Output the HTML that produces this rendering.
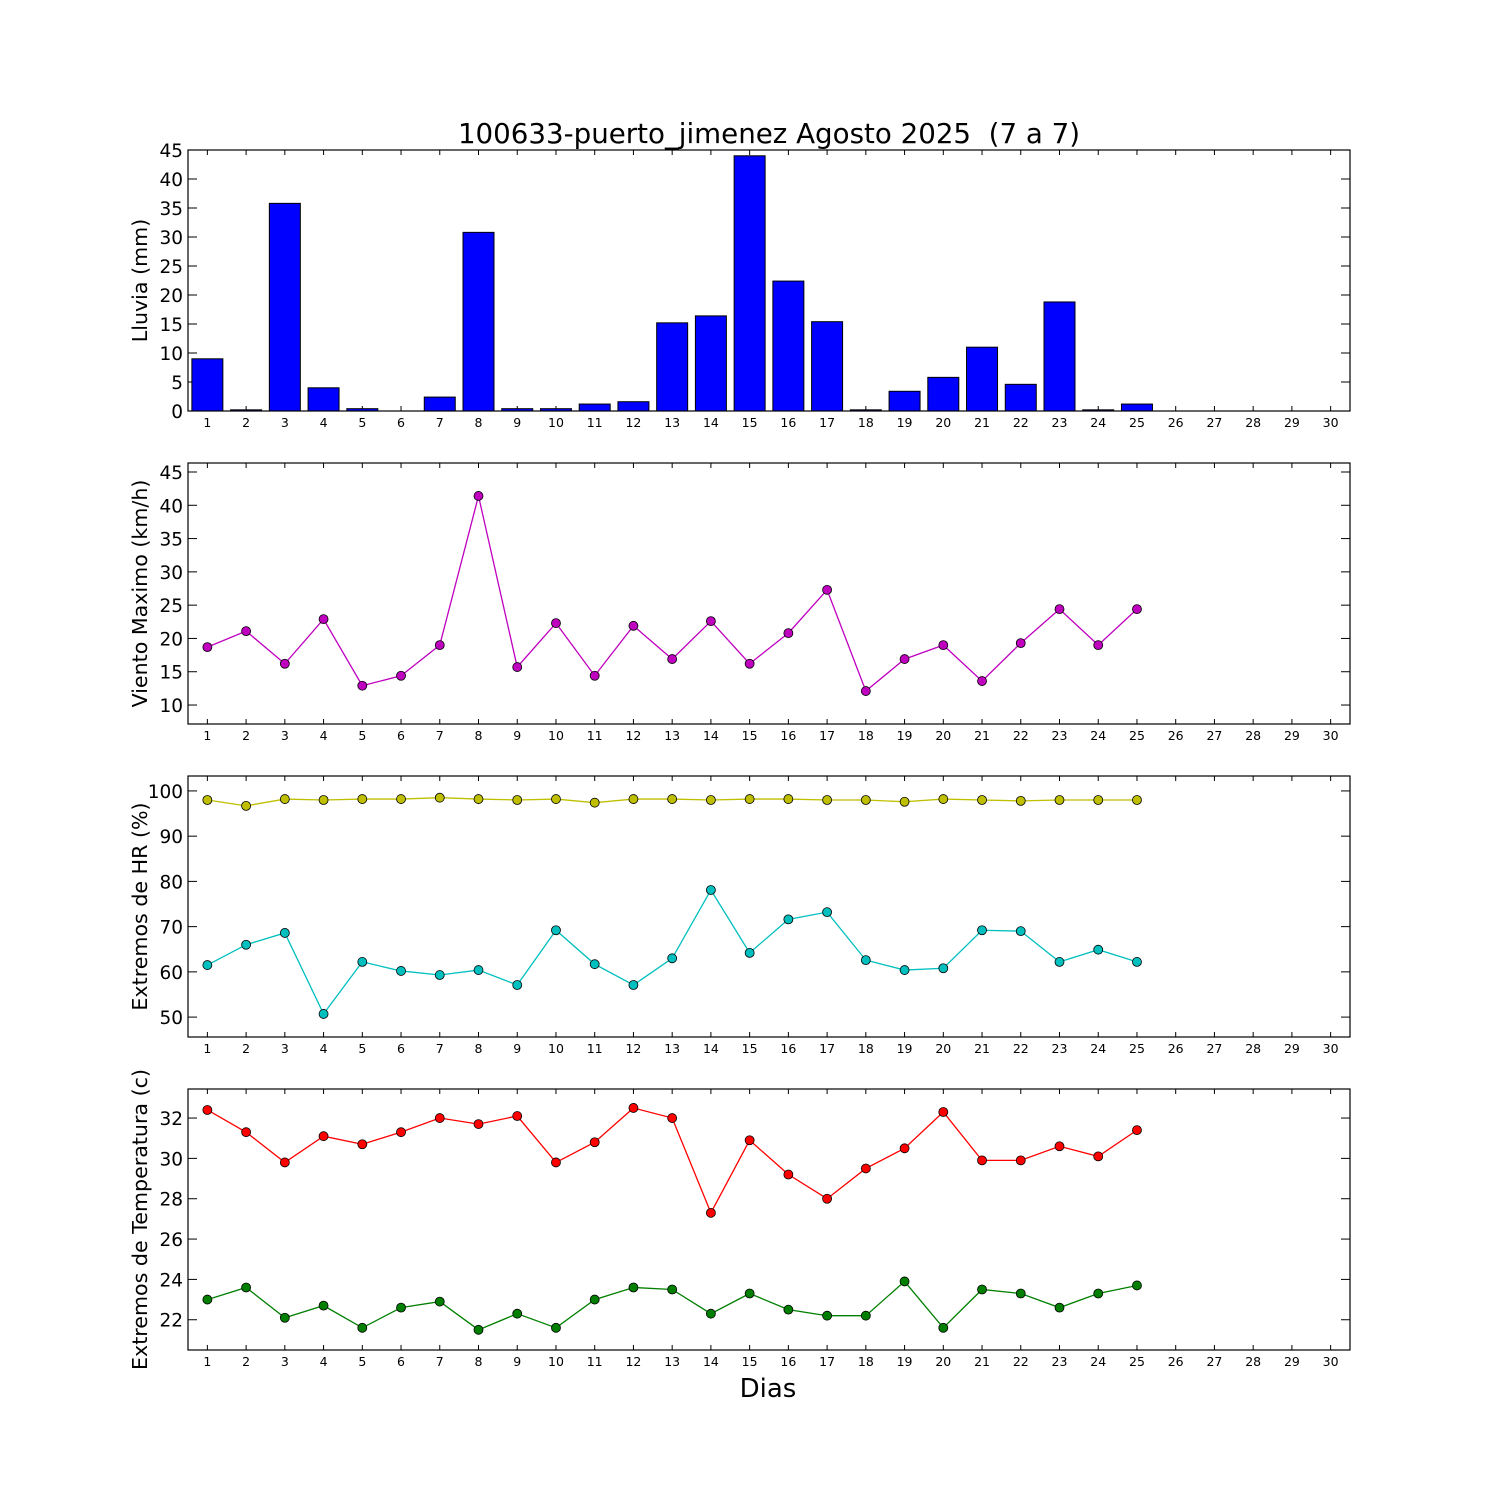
<!DOCTYPE html>
<html><head><meta charset="utf-8"><style>
body{margin:0;background:#fff;}
svg{display:block;font-family:"DejaVu Sans","Liberation Sans",sans-serif;}
</style></head><body>
<svg id="chart" width="1500" height="1500" viewBox="0 0 1500 1500">
<rect width="1500" height="1500" fill="#fff"/>
<text x="769" y="143" font-size="27.7" text-anchor="middle" style="white-space:pre">100633-puerto_jimenez Agosto 2025  (7 a 7)</text>
<text x="768" y="1397" font-size="26" text-anchor="middle">Dias</text>
</svg>
<script>
const days = [1,2,3,4,5,6,7,8,9,10,11,12,13,14,15,16,17,18,19,20,21,22,23,24,25];
const rain = [9,0.2,35.8,4,0.4,0,2.4,30.8,0.4,0.4,1.2,1.6,15.2,16.4,44,22.4,15.4,0.2,3.4,5.8,11,4.6,18.8,0.2,1.2];
const wind = [18.7,21.1,16.2,22.9,12.9,14.4,19,41.4,15.7,22.3,14.4,21.9,16.9,22.6,16.2,20.8,27.3,12.1,16.9,19,13.6,19.3,24.4,19,24.4];
const hrMax = [98,96.7,98.2,98,98.2,98.2,98.5,98.2,98,98.2,97.4,98.2,98.2,98,98.2,98.2,98,98,97.6,98.2,98,97.8,98,98,98];
const hrMin = [61.5,66,68.6,50.7,62.2,60.2,59.3,60.4,57.1,69.2,61.7,57.1,63,78.1,64.2,71.6,73.2,62.6,60.4,60.8,69.2,69,62.2,64.9,62.2];
const tMax = [32.4,31.3,29.8,31.1,30.7,31.3,32,31.7,32.1,29.8,30.8,32.5,32,27.3,30.9,29.2,28,29.5,30.5,32.3,29.9,29.9,30.6,30.1,31.4];
const tMin = [23,23.6,22.1,22.7,21.6,22.6,22.9,21.5,22.3,21.6,23,23.6,23.5,22.3,23.3,22.5,22.2,22.2,23.9,21.6,23.5,23.3,22.6,23.3,23.7];
const xTicks = Array.from({length:30},(_, i)=>i+1);
const rainTicks = [0,5,10,15,20,25,30,35,40,45];
const windTicks = [10,15,20,25,30,35,40,45];
const hrTicks = [50,60,70,80,90,100];
const tTicks = [22,24,26,28,30,32];

const NS="http://www.w3.org/2000/svg";
const svg=document.getElementById('chart');
const L=188,R=1350;
const xs=d=>L+(d-0.5)*(R-L)/30;
function mk(tag,attrs,parent){const e=document.createElementNS(NS,tag);for(const k in attrs)e.setAttribute(k,attrs[k]);(parent||svg).appendChild(e);return e;}

function panel(name,top,bot,ymin,ymax,yticks,ylabel){
  const g=mk('g',{});
  
  
  const ys=v=>bot-(v-ymin)/(ymax-ymin)*(bot-top);
  xTicks.forEach(d=>{
    const x=xs(d);
    mk('line',{x1:x,x2:x,y1:bot,y2:bot-5,stroke:'#000'},g);
    mk('line',{x1:x,x2:x,y1:top,y2:top+5,stroke:'#000'},g);
    const t=mk('text',{x:x,y:bot+16,'font-size':12.5,'text-anchor':'middle'},g);
    t.textContent=d;
    
    
  });
  yticks.forEach(v=>{
    const y=ys(v);
    mk('line',{x1:L,x2:L+9,y1:y,y2:y,stroke:'#000'},g);
    mk('line',{x1:R,x2:R-9,y1:y,y2:y,stroke:'#000'},g);
    const t=mk('text',{x:L-5,y:y+7,'font-size':18.5,'text-anchor':'end'},g);
    t.textContent=v;
    
    
  });
  const lab=mk('text',{x:0,y:0,'font-size':20.6,'text-anchor':'middle',transform:`translate(147,${(top+bot)/2}) rotate(-90)`},g);
  lab.textContent=ylabel;
  
  
  return {g,ys,top,bot};
}
function frame(p){
  const r=mk('rect',{x:L,y:p.top,width:R-L,height:p.bot-p.top,fill:'none',stroke:'#000','stroke-width':1.2},p.g);
  
  
}
function series(p,vals,color,name){
  const pts=days.map((d,i)=>xs(d)+','+p.ys(vals[i])).join(' ');
  const pl=mk('polyline',{points:pts,fill:'none',stroke:color,'stroke-width':1.3},p.g);
  
  
  days.forEach((d,i)=>{
    const c=mk('circle',{cx:xs(d),cy:p.ys(vals[i]),r:4.5,fill:color,stroke:'#000','stroke-width':0.8},p.g);
    
    
  });
}

const p1=panel('rain',150,411,0,45,rainTicks,'Lluvia (mm)');
const bw=(R-L)/30*0.8;
days.forEach((d,i)=>{
  const y=p1.ys(rain[i]);
  const b=mk('rect',{x:xs(d)-bw/2,y:y,width:bw,height:p1.bot-y,fill:'#0000ff',stroke:'#000','stroke-width':1},p1.g);
  
  
});
frame(p1);

const p2=panel('wind',463,724,7.15,46.35,windTicks,'Viento Maximo (km/h)');
series(p2,wind,'#bf00bf','wind');
frame(p2);

const p3=panel('humidity',776,1037,45.6,103.3,hrTicks,'Extremos de HR (%)');
series(p3,hrMax,'#bfbf00','hr-max');
series(p3,hrMin,'#00bfbf','hr-min');
frame(p3);

const p4=panel('temperature',1089,1350,20.5,33.44,tTicks,'Extremos de Temperatura (c)');
series(p4,tMax,'#ff0000','temp-max');
series(p4,tMin,'#007f00','temp-min');
frame(p4);
</script>
</body></html>
